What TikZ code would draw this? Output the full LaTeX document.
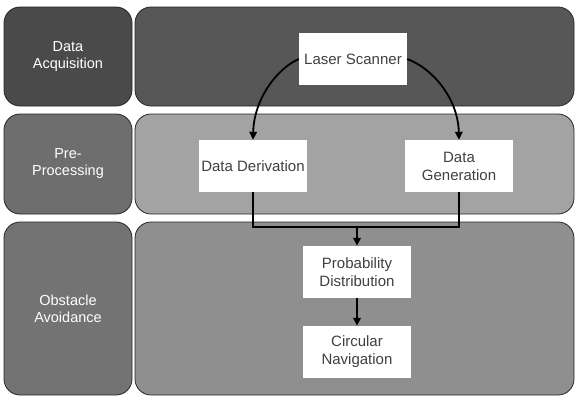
\documentclass[tikz,border=0pt]{standalone}
\usepackage{fontspec}
\setmainfont{Liberation Sans}
\usetikzlibrary{arrows.meta}
\definecolor{laneA}{gray}{0.29}
\definecolor{bandA}{gray}{0.34}
\definecolor{laneB}{gray}{0.43}
\definecolor{bandB}{gray}{0.64}
\definecolor{laneC}{gray}{0.45}
\definecolor{bandC}{gray}{0.56}
\definecolor{inktext}{gray}{0.25}
\begin{document}
\begin{tikzpicture}[x=1pt,y=-1pt,
  panel/.style={draw=black!85, line width=0.8pt, rounded corners=16pt, inner sep=0pt},
  lane/.style={panel, minimum width=128pt, text=white, align=center,
    font=\fontsize{14.5}{17}\selectfont},
  band/.style={panel, minimum width=439pt},
  stepbox/.style={fill=white, minimum width=108pt, minimum height=52pt, inner sep=0pt,
    align=center, text=inktext, font=\fontsize{15}{18}\selectfont},
  link/.style={line width=1.8pt},
  flow/.style={link, -{Triangle[length=8pt,width=7.5pt]}}
]
\useasboundingbox (0,0) rectangle (577,399);

% lanes: stage name on the left, working area on the right
\node[lane, fill=laneA, minimum height=99pt]  (acq)  at (68,56.5)   {Data\\Acquisition};
\node[band, fill=bandA, minimum height=99pt]  (acqB) at (354.5,56.5) {};
\node[lane, fill=laneB, minimum height=100pt] (pre)  at (68,164)    {Pre-\\Processing};
\node[band, fill=bandB, minimum height=100pt] (preB) at (354.5,164)  {};
\node[lane, fill=laneC, minimum height=173pt] (obs)  at (68,308.5)  {Obstacle\\Avoidance};
\node[band, fill=bandC, minimum height=173pt] (obsB) at (354.5,308.5) {};

% processing steps
\node[stepbox] (laser) at (353,59)  {Laser Scanner};
\node[stepbox] (deriv) at (253,166) {Data Derivation};
\node[stepbox] (gen)   at (459,166) {Data\\Generation};
\node[stepbox] (prob)  at (357,272) {Probability\\Distribution};
\node[stepbox] (circ)  at (357,352) {Circular\\Navigation};

% connectors
\draw[flow] (laser.west) .. controls (278,68) and (254,98) .. (deriv.north);
\draw[flow] (laser.east) .. controls (432,68) and (458,98) .. (gen.north);
\coordinate (join) at (357,227);
\draw[link] (deriv.south) |- (join) -| (gen.south);
\draw[flow] (join) -- (prob.north);
\draw[flow] (prob.south) -- (circ.north);
\end{tikzpicture}
\end{document}
